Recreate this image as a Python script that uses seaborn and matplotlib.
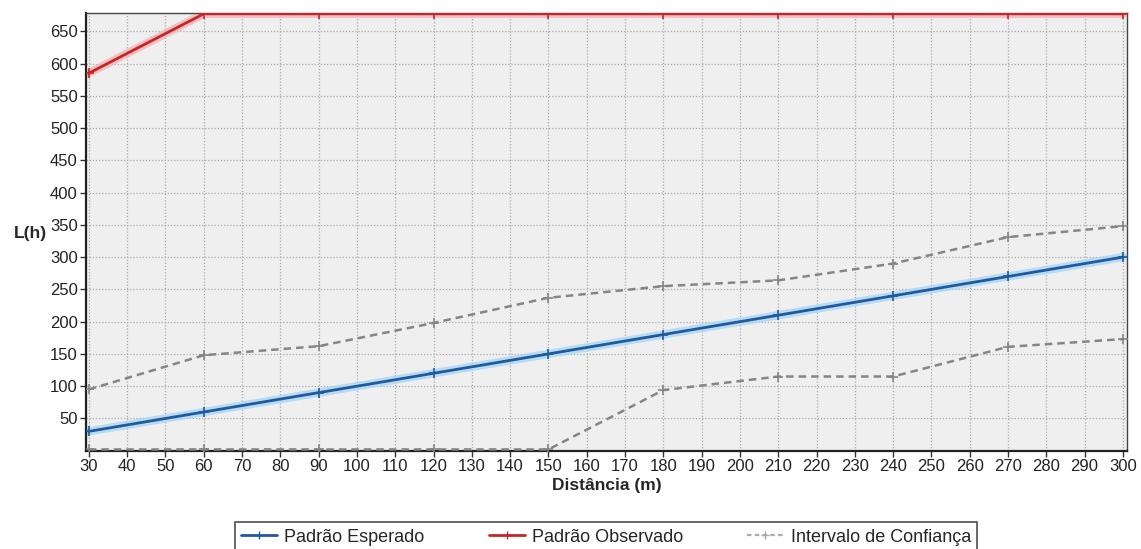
import matplotlib
matplotlib.use("Agg")
import matplotlib.pyplot as plt
import seaborn as sns
import pandas as pd
from matplotlib.lines import Line2D

# Distance classes (m)
distancia = [30, 60, 90, 120, 150, 180, 210, 240, 270, 300]
# Expected pattern L(h)
esperado = [30, 60, 90, 120, 150, 180, 210, 240, 270, 300]
# Observed pattern L(h)
observado = [585, 677, 677, 677, 677, 677, 677, 677, 677, 677]
# Confidence envelope
ic_superior = [95, 148, 162, 198, 237, 255, 264, 290, 331, 348]
ic_inferior = [2, 2, 2, 2, 2, 94, 115, 115, 161, 173]

xticks = list(range(30, 301, 10))
yticks = list(range(50, 651, 50))

sns.set_theme(style="white")
plt.rcParams["font.family"] = ["Liberation Sans", "DejaVu Sans"]

fig = plt.figure(figsize=(11.41, 5.49), dpi=100)
ax = fig.add_axes([0.0755, 0.179, 0.912, 0.797])
ax.set_facecolor("#efefef")

df = pd.DataFrame({
    "x": distancia * 4,
    "y": esperado + observado + ic_superior + ic_inferior,
    "serie": (["esp"] * len(distancia) + ["obs"] * len(distancia)
              + ["sup"] * len(distancia) + ["inf"] * len(distancia)),
})

blue = "#1e5a9c"
red = "#c4262b"
gray = "#858585"

# soft halo under the two main lines
sns.lineplot(data=df[df.serie == "esp"], x="x", y="y", ax=ax, color="#a9d6f5",
             lw=6, alpha=0.8, legend=False, zorder=2)
sns.lineplot(data=df[df.serie == "obs"], x="x", y="y", ax=ax, color="#f5b5b5",
             lw=6, alpha=0.8, legend=False, zorder=2)

for serie in ["sup", "inf"]:
    sns.lineplot(data=df[df.serie == serie], x="x", y="y", ax=ax, color=gray,
                 lw=1.8, linestyle=(0, (3, 2)), marker="+", markersize=7,
                 mew=1.2, mec=gray, legend=False, zorder=3)
sns.lineplot(data=df[df.serie == "esp"], x="x", y="y", ax=ax, color=blue,
             lw=2, marker="+", markersize=7, mew=1.2, mec=blue,
             legend=False, zorder=4)
sns.lineplot(data=df[df.serie == "obs"], x="x", y="y", ax=ax, color=red,
             lw=2, marker="+", markersize=7, mew=1.2, mec=red,
             legend=False, zorder=4)

ax.set_xlim(29.3, 301)
ax.set_ylim(0, 678)
ax.set_xticks(xticks)
ax.set_yticks(yticks)
ax.tick_params(axis="both", which="major", length=4, width=1, color="#333333",
               labelsize=12, labelcolor="#222222", direction="out",
               bottom=True, left=True, pad=2)
ax.grid(True, color="#aaaaaa", linestyle=(0, (1, 1.5)), linewidth=0.9)
ax.set_axisbelow(True)
for side in ["left", "bottom"]:
    ax.spines[side].set_color("#222222")
    ax.spines[side].set_linewidth(1.6)
for side in ["top", "right"]:
    ax.spines[side].set_color("#444444")
    ax.spines[side].set_linewidth(1.0)

ax.set_xlabel("Distância (m)", fontsize=12.5, fontweight="bold", labelpad=3)
ax.set_ylabel("L(h)", fontsize=12.5, fontweight="bold", rotation=0,
              labelpad=4)
ax.yaxis.set_label_coords(-0.054, 0.48)

handles = [
    Line2D([], [], color=blue, lw=2, marker="+", markersize=6, mec=blue),
    Line2D([], [], color=red, lw=2, marker="+", markersize=6, mec=red),
    Line2D([], [], color="#aaaaaa", lw=1.6, linestyle=(0, (2, 1.5)),
           marker="+", markersize=6, mec="#aaaaaa"),
]
leg = fig.legend(handles, ["Padrão Esperado", "Padrão Observado",
                           "Intervalo de Confiança"],
                 loc="lower center", bbox_to_anchor=(0.531, -0.022), ncol=3,
                 frameon=True, fancybox=False, fontsize=13,
                 handlelength=2.0, columnspacing=3.55, handletextpad=0.4,
                 borderpad=0.35, edgecolor="#222222")
leg.get_frame().set_linewidth(1.2)

fig.savefig("out.png", dpi=100, facecolor="white")
